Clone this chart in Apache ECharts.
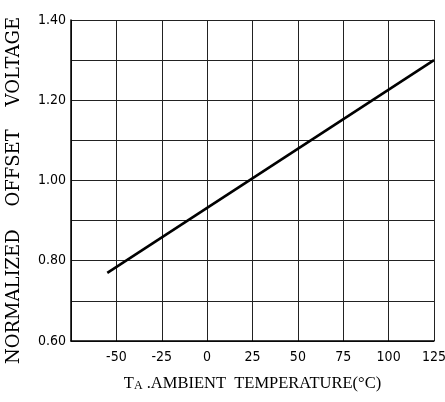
<!DOCTYPE html>
<html>
<head>
<meta charset="utf-8">
<script src="https://cdn.jsdelivr.net/npm/echarts@6/dist/echarts.min.js"></script>
<style>
  html, body { margin: 0; padding: 0; background: #fff; }
  #chart { width: 445px; height: 402px; }
</style>
</head>
<body>
<div id="chart"></div>
<script>
//  温度 (°C) 与归一化失调电压
const temperature = [-55, 125];
const normalizedOffset = [0.77, 1.30];
//  刻度文字
const xTickLabels = ['-50', '-25', '0', '25', '50', '75', '100', '125'];
const yTickLabels = ['0.60', '0.80', '1.00', '1.20', '1.40'];

const tickFont = {
    color: '#000',
    fontSize: 14,
    fontFamily: "'Liberation Sans Narrow', 'DejaVu Sans Condensed', 'Liberation Sans', sans-serif",
};

const option = {
    animation: false,
    backgroundColor: '#fff',
    grid: {
        left: 71,
        right: 11,
        top: 20,
        bottom: 61,
        //  不自动收缩
        outerBoundsMode: 'none',
        containLabel: false,
    },
    xAxis: {
        type: 'value',
        min: -75,
        max: 125,
        interval: 25,
        name: '{t|T}{s|A}{t| .AMBIENT  TEMPERATURE(°C)}',
        nameLocation: 'middle',
        nameGap: 34,
        nameTextStyle: {
            rich: {
                t: {fontSize: 16.5, fontFamily: "'Liberation Serif', serif", color: '#000'},
                s: {fontSize: 12, fontFamily: "'Liberation Serif', serif", color: '#000', verticalAlign: 'bottom'},
            }
        },
        axisLine: {onZero: false, lineStyle: {color: '#000', width: 1.5}},
        axisTick: {show: false},
        axisLabel: Object.assign({}, tickFont, {
            margin: 9,
            formatter: function (v) {
                const s = String(v);
                return xTickLabels.indexOf(s) >= 0 ? s : '';
            }
        }),
        splitLine: {lineStyle: {color: '#222', width: 1}},
    },
    yAxis: {
        type: 'value',
        min: 0.6,
        max: 1.4,
        interval: 0.1,
        name: 'NORMALIZED    OFFSET    VOLTAGE',
        nameLocation: 'middle',
        nameGap: 48,
        nameRotate: 90,
        nameTextStyle: {
            fontSize: 18,
            fontFamily: "'DejaVu Serif', serif",
            color: '#000',
            padding: [0, 0, 0, -20],
        },
        axisLine: {show: true, onZero: false, lineStyle: {color: '#000', width: 1.5}},
        axisTick: {show: false},
        axisLabel: Object.assign({}, tickFont, {
            margin: 5,
            formatter: function (v) {
                const s = v.toFixed(2);
                return yTickLabels.indexOf(s) >= 0 ? s : '';
            }
        }),
        splitLine: {lineStyle: {color: '#222', width: 1}},
    },
    series: [
        {
            type: 'line',
            data: temperature.map((t, i) => [t, normalizedOffset[i]]),
            symbol: 'none',
            lineStyle: {color: '#000', width: 2.6},
        }
    ],
};

const myChart = echarts.init(document.getElementById('chart'));
myChart.setOption(option);
</script>
</body>
</html>
